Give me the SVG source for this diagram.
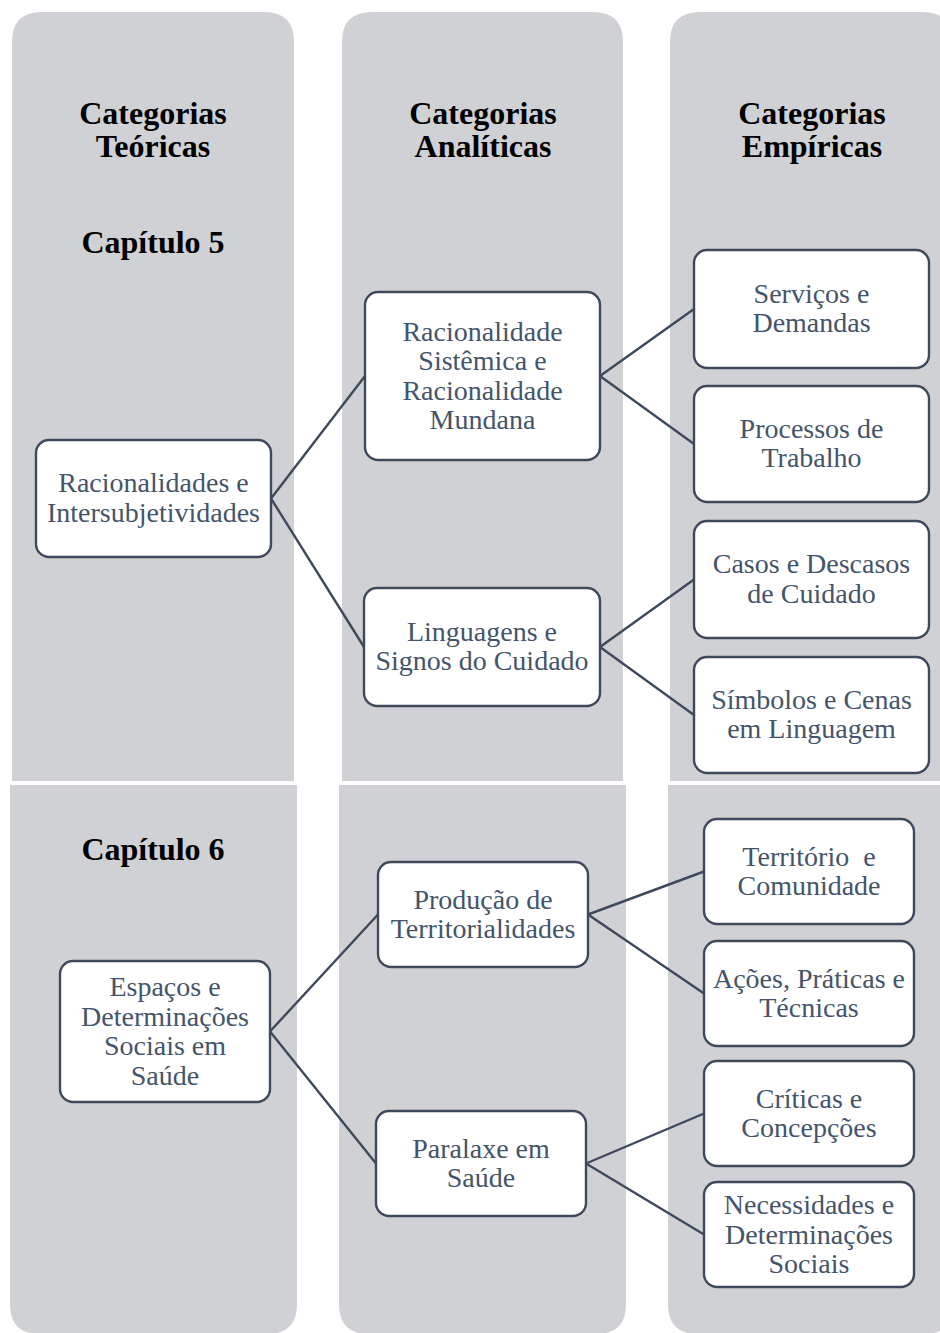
<svg xmlns="http://www.w3.org/2000/svg" width="940" height="1333" viewBox="0 0 940 1333">
<style>
.panel{fill:#D0D1D5;}
.hdr{font-family:'Liberation Serif','Times New Roman',serif;font-weight:bold;font-size:32px;fill:#000;text-anchor:middle;}
.box{fill:#FFFFFF;stroke:#3E4A5C;stroke-width:2.4;}
.lbl{font-family:'Liberation Serif','Times New Roman',serif;font-size:28px;fill:#44546A;text-anchor:middle;}
.conn{stroke:#3E4A5C;stroke-width:2.4;fill:none;}
</style>
<rect width="940" height="1333" fill="#FFFFFF"/>
<g id="panels">
  <path class="panel" d="M12,781 V42 Q12,12 42,12 H264 Q294,12 294,42 V781 Z"/>
  <path class="panel" d="M342,781 V42 Q342,12 372,12 H593 Q623,12 623,42 V781 Z"/>
  <path class="panel" d="M670,781 V42 Q670,12 700,12 H922 Q952,12 952,42 V781 Z"/>
  <path class="panel" d="M10,785 H297 V1304 Q297,1334 267,1334 H40 Q10,1334 10,1304 Z"/>
  <path class="panel" d="M339,785 H626 V1304 Q626,1334 596,1334 H369 Q339,1334 339,1304 Z"/>
  <path class="panel" d="M668,785 H954 V1304 Q954,1334 924,1334 H698 Q668,1334 668,1304 Z"/>
</g>
<g id="headers">
  <text class="hdr" x="153" y="124">Categorias</text>
  <text class="hdr" x="153" y="157">Teóricas</text>
  <text class="hdr" x="483" y="124">Categorias</text>
  <text class="hdr" x="483" y="157">Analíticas</text>
  <text class="hdr" x="812" y="124">Categorias</text>
  <text class="hdr" x="812" y="157">Empíricas</text>
  <text class="hdr" x="153" y="253">Capítulo 5</text>
  <text class="hdr" x="153" y="860">Capítulo 6</text>
</g>
<g id="connectors">
  <line class="conn" x1="271" y1="498.5" x2="365" y2="376"/>
  <line class="conn" x1="271" y1="498.5" x2="364" y2="647"/>
  <line class="conn" x1="600" y1="376" x2="694" y2="309"/>
  <line class="conn" x1="600" y1="376" x2="694" y2="444"/>
  <line class="conn" x1="600" y1="647" x2="694" y2="579.5"/>
  <line class="conn" x1="600" y1="647" x2="694" y2="715"/>
  <line class="conn" x1="270" y1="1031.5" x2="378" y2="914.5"/>
  <line class="conn" x1="270" y1="1031.5" x2="376" y2="1163.5"/>
  <line class="conn" x1="588" y1="914.5" x2="704" y2="871.5"/>
  <line class="conn" x1="588" y1="914.5" x2="704" y2="993.5"/>
  <line class="conn" x1="586" y1="1163.5" x2="704" y2="1113.5"/>
  <line class="conn" x1="586" y1="1163.5" x2="704" y2="1234.5"/>
</g>
<g id="n_racionalidades">
  <rect class="box" x="36" y="440" width="235" height="117" rx="13"/>
  <text class="lbl" x="153.5" y="492">Racionalidades e</text>
  <text class="lbl" x="153.5" y="521.5">Intersubjetividades</text>
</g>
<g id="n_racionalidade_sistemica">
  <rect class="box" x="365" y="292" width="235" height="168" rx="13"/>
  <text class="lbl" x="482.5" y="340.5">Racionalidade</text>
  <text class="lbl" x="482.5" y="370">Sistêmica e</text>
  <text class="lbl" x="482.5" y="399.5">Racionalidade</text>
  <text class="lbl" x="482.5" y="429">Mundana</text>
</g>
<g id="n_linguagens">
  <rect class="box" x="364" y="588" width="236" height="118" rx="13"/>
  <text class="lbl" x="482" y="640.5">Linguagens e</text>
  <text class="lbl" x="482" y="670">Signos do Cuidado</text>
</g>
<g id="n_servicos">
  <rect class="box" x="694" y="250" width="235" height="118" rx="13"/>
  <text class="lbl" x="811.5" y="302.5">Serviços e</text>
  <text class="lbl" x="811.5" y="332">Demandas</text>
</g>
<g id="n_processos">
  <rect class="box" x="694" y="386" width="235" height="116" rx="13"/>
  <text class="lbl" x="811.5" y="437.5">Processos de</text>
  <text class="lbl" x="811.5" y="467">Trabalho</text>
</g>
<g id="n_casos">
  <rect class="box" x="694" y="521" width="235" height="117" rx="13"/>
  <text class="lbl" x="811.5" y="573">Casos e Descasos</text>
  <text class="lbl" x="811.5" y="602.5">de Cuidado</text>
</g>
<g id="n_simbolos">
  <rect class="box" x="694" y="657" width="235" height="116" rx="13"/>
  <text class="lbl" x="811.5" y="708.5">Símbolos e Cenas</text>
  <text class="lbl" x="811.5" y="738">em Linguagem</text>
</g>
<g id="n_espacos">
  <rect class="box" x="60" y="961" width="210" height="141" rx="13"/>
  <text class="lbl" x="165" y="996">Espaços e</text>
  <text class="lbl" x="165" y="1025.5">Determinações</text>
  <text class="lbl" x="165" y="1055">Sociais em</text>
  <text class="lbl" x="165" y="1084.5">Saúde</text>
</g>
<g id="n_producao">
  <rect class="box" x="378" y="862" width="210" height="105" rx="13"/>
  <text class="lbl" x="483" y="908.5">Produção de</text>
  <text class="lbl" x="483" y="938">Territorialidades</text>
</g>
<g id="n_paralaxe">
  <rect class="box" x="376" y="1111" width="210" height="105" rx="13"/>
  <text class="lbl" x="481" y="1157.5">Paralaxe em</text>
  <text class="lbl" x="481" y="1187">Saúde</text>
</g>
<g id="n_territorio">
  <rect class="box" x="704" y="819" width="210" height="105" rx="13"/>
  <text class="lbl" x="809" y="865.5" xml:space="preserve">Território  e</text>
  <text class="lbl" x="809" y="895">Comunidade</text>
</g>
<g id="n_acoes">
  <rect class="box" x="704" y="941" width="210" height="105" rx="13"/>
  <text class="lbl" x="809" y="987.5">Ações, Práticas e</text>
  <text class="lbl" x="809" y="1017">Técnicas</text>
</g>
<g id="n_criticas">
  <rect class="box" x="704" y="1061" width="210" height="105" rx="13"/>
  <text class="lbl" x="809" y="1107.5">Críticas e</text>
  <text class="lbl" x="809" y="1137">Concepções</text>
</g>
<g id="n_necessidades">
  <rect class="box" x="704" y="1182" width="210" height="105" rx="13"/>
  <text class="lbl" x="809" y="1214">Necessidades e</text>
  <text class="lbl" x="809" y="1243.5">Determinações</text>
  <text class="lbl" x="809" y="1273">Sociais</text>
</g>
</svg>
